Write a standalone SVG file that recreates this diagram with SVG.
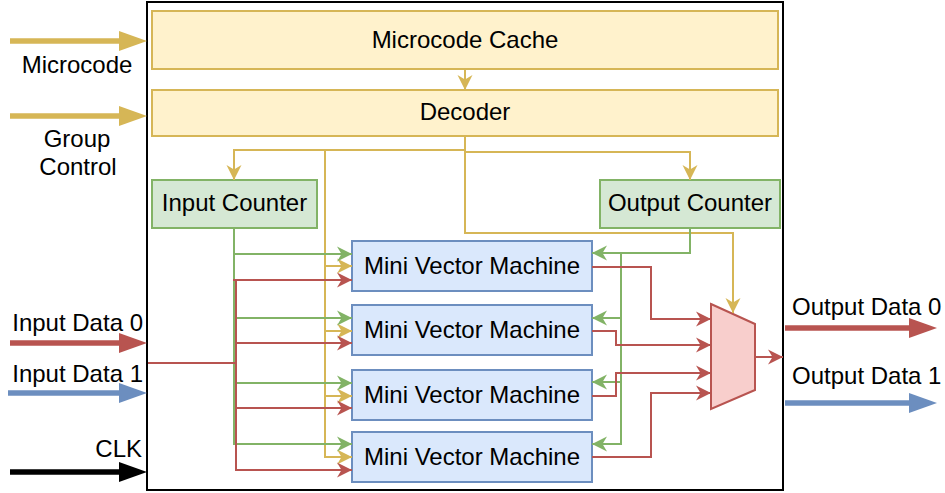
<svg xmlns="http://www.w3.org/2000/svg" width="945" height="493" viewBox="0 0 945 493">
  <style>
    text { font-family: "Liberation Sans", Arial, Helvetica, sans-serif; font-size: 24px; fill: #000; }
    .mid { text-anchor: middle; }
    .end { text-anchor: end; }
    .yel { fill: #fff2cc; stroke: #d6b656; stroke-width: 2; }
    .grn { fill: #d5e8d4; stroke: #82b366; stroke-width: 2; }
    .blu { fill: #dae8fc; stroke: #6c8ebf; stroke-width: 2; }
    .red { fill: #f8cecc; stroke: #b85450; stroke-width: 2; }
    .cy { fill: none; stroke: #d6b656; stroke-width: 2; }
    .cg { fill: none; stroke: #82b366; stroke-width: 2; }
    .cr { fill: none; stroke: #b85450; stroke-width: 2; }
    .cy.a { marker-end: url(#ay); }
    .cg.a { marker-end: url(#ag); }
    .cr.a { marker-end: url(#ar); }
    .bus { fill: none; stroke-width: 5.5; }
  </style>
  <defs>
    <!-- small classic arrowheads for internal connectors -->
    <marker id="ay" viewBox="-16 -8 17 16" refX="0" refY="0" markerWidth="17" markerHeight="16" markerUnits="userSpaceOnUse" orient="auto">
      <path d="M0,0 L-15,-7.5 L-10.5,0 L-15,7.5 Z" fill="#d6b656"/>
    </marker>
    <marker id="ag" viewBox="-16 -8 17 16" refX="0" refY="0" markerWidth="17" markerHeight="16" markerUnits="userSpaceOnUse" orient="auto">
      <path d="M0,0 L-15,-7.5 L-10.5,0 L-15,7.5 Z" fill="#82b366"/>
    </marker>
    <marker id="ar" viewBox="-16 -8 17 16" refX="0" refY="0" markerWidth="17" markerHeight="16" markerUnits="userSpaceOnUse" orient="auto">
      <path d="M0,0 L-15,-7.5 L-10.5,0 L-15,7.5 Z" fill="#b85450"/>
    </marker>
    <!-- block arrowheads for external buses; tip sits 22px past the line end -->
    <marker id="by" viewBox="-8 -11 32 22" refX="0" refY="0" markerWidth="32" markerHeight="22" markerUnits="userSpaceOnUse" orient="auto">
      <path d="M22,0 L-6,-10 L-6,10 Z" fill="#d6b656"/>
    </marker>
    <marker id="br" viewBox="-8 -11 32 22" refX="0" refY="0" markerWidth="32" markerHeight="22" markerUnits="userSpaceOnUse" orient="auto">
      <path d="M22,0 L-6,-10 L-6,10 Z" fill="#b85450"/>
    </marker>
    <marker id="bb" viewBox="-8 -11 32 22" refX="0" refY="0" markerWidth="32" markerHeight="22" markerUnits="userSpaceOnUse" orient="auto">
      <path d="M22,0 L-6,-10 L-6,10 Z" fill="#6c8ebf"/>
    </marker>
    <marker id="bk" viewBox="-8 -11 32 22" refX="0" refY="0" markerWidth="32" markerHeight="22" markerUnits="userSpaceOnUse" orient="auto">
      <path d="M22,0 L-6,-10 L-6,10 Z" fill="#000"/>
    </marker>
  </defs>

  <rect width="945" height="493" fill="#fff"/>

  <!-- enclosing block -->
  <g id="frame">
    <rect x="147" y="2" width="636" height="488" fill="#fff" stroke="#000" stroke-width="2"/>
  </g>

  <g id="microcode-cache">
    <rect class="yel" x="152" y="11" width="626" height="58"/>
    <text class="mid" x="465" y="48">Microcode Cache</text>
  </g>
  <g id="decoder">
    <rect class="yel" x="152" y="90" width="626" height="46"/>
    <text class="mid" x="465" y="120">Decoder</text>
  </g>
  <g id="input-counter">
    <rect class="grn" x="152" y="180" width="165" height="48"/>
    <text class="mid" x="234.5" y="211">Input Counter</text>
  </g>
  <g id="output-counter">
    <rect class="grn" x="600" y="180" width="180" height="48"/>
    <text class="mid" x="690" y="211">Output Counter</text>
  </g>
  <g id="mvm-0">
    <rect class="blu" x="352" y="241" width="240" height="50"/>
    <text class="mid" x="472" y="274">Mini Vector Machine</text>
  </g>
  <g id="mvm-1">
    <rect class="blu" x="352" y="305" width="240" height="50"/>
    <text class="mid" x="472" y="338">Mini Vector Machine</text>
  </g>
  <g id="mvm-2">
    <rect class="blu" x="352" y="370" width="240" height="50"/>
    <text class="mid" x="472" y="403">Mini Vector Machine</text>
  </g>
  <g id="mvm-3">
    <rect class="blu" x="352" y="432" width="240" height="50"/>
    <text class="mid" x="472" y="465">Mini Vector Machine</text>
  </g>
  <g id="mux">
    <polygon class="red" points="711,304 755,324 755,390 711,409"/>
  </g>

  <g id="connectors">
    <!-- control path (yellow) -->
    <path class="cy a" d="M465,69 V90"/>
    <path class="cy a" d="M465,136 V150 H234 V180"/>
    <path class="cy a" d="M465,136 V152 H690 V180"/>
    <path class="cy a" d="M465,152 V233 H733 V313"/>
    <path class="cy a" d="M325,150 V457 H352"/>
    <path class="cy a" d="M325,266 H352"/>
    <path class="cy a" d="M325,331 H352"/>
    <path class="cy a" d="M325,396 H352"/>

    <!-- input counter fan-out (green) -->
    <path class="cg a" d="M234,228 V444 H352"/>
    <path class="cg a" d="M234,254 H352"/>
    <path class="cg a" d="M234,318 H352"/>
    <path class="cg a" d="M234,383 H352"/>

    <!-- output counter fan-out (green) -->
    <path class="cg a" d="M690,228 V253 H592"/>
    <path class="cg a" d="M621,253 V444 H592"/>
    <path class="cg a" d="M621,318 H592"/>
    <path class="cg a" d="M621,382 H592"/>

    <!-- input data fan-out (red) -->
    <path class="cr" d="M148,363 H236"/>
    <path class="cr a" d="M236,280 V470 H352"/>
    <path class="cr a" d="M233,280 H352"/>
    <path class="cr a" d="M236,343 H352"/>
    <path class="cr a" d="M236,408 H352"/>

    <!-- machine outputs into the mux (red) -->
    <path class="cr a" d="M592,267 H651 V319 H711"/>
    <path class="cr a" d="M592,331 H616 V345 H711"/>
    <path class="cr a" d="M592,396 H616 V373 H711"/>
    <path class="cr a" d="M592,457 H651 V393 H711"/>
    <path class="cr a" d="M755,357 H783"/>

    <!-- external buses -->
    <path class="bus" stroke="#d6b656" marker-end="url(#by)" d="M10,41 H125"/>
    <path class="bus" stroke="#d6b656" marker-end="url(#by)" d="M10,116 H125"/>
    <path class="bus" stroke="#b85450" marker-end="url(#br)" d="M10,343 H125"/>
    <path class="bus" stroke="#6c8ebf" marker-end="url(#bb)" d="M8,393 H125"/>
    <path class="bus" stroke="#000" marker-end="url(#bk)" d="M10,472 H125"/>
    <path class="bus" stroke="#b85450" marker-end="url(#br)" d="M785,328 H915"/>
    <path class="bus" stroke="#6c8ebf" marker-end="url(#bb)" d="M785,403 H915"/>
  </g>

  <!-- external port labels -->
  <g id="labels">
    <text class="mid" x="77" y="73">Microcode</text>
    <text class="mid" x="77" y="147">Group</text>
    <text class="mid" x="78" y="175">Control</text>
    <text class="end" x="143" y="331">Input Data 0</text>
    <text class="end" x="143" y="382">Input Data 1</text>
    <text class="end" x="142" y="457">CLK</text>
    <text x="792" y="315">Output Data 0</text>
    <text x="792" y="384">Output Data 1</text>
  </g>
</svg>
